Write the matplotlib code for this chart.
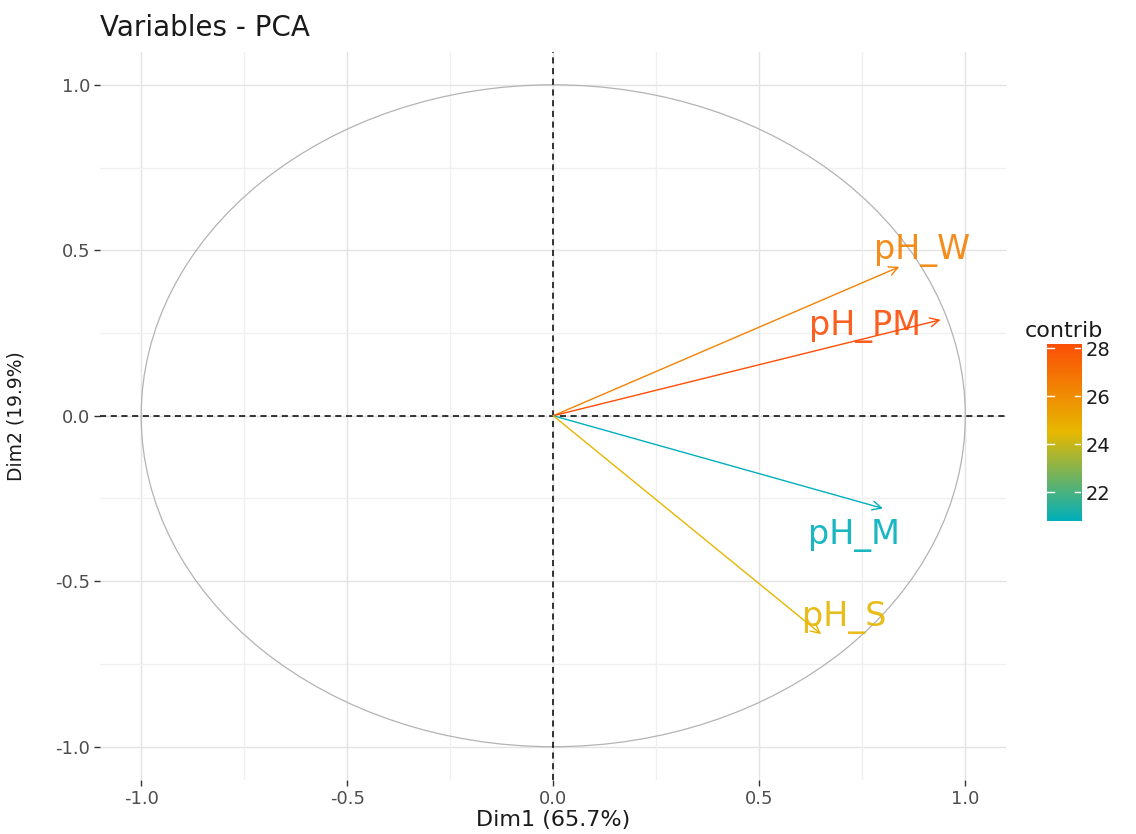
import numpy as np
import matplotlib
matplotlib.use("Agg")
import matplotlib.pyplot as plt
from matplotlib.colors import LinearSegmentedColormap, Normalize
from matplotlib.patches import Circle

# variable coordinates on Dim1 / Dim2 and their contributions
variables = ["pH_W", "pH_PM", "pH_M", "pH_S"]
dim1 = [0.84, 0.94, 0.80, 0.65]
dim2 = [0.45, 0.29, -0.28, -0.66]
contrib = [26.4, 28.2, 20.8, 24.6]
ticks = [-1.0, -0.5, 0.0, 0.5, 1.0]
tick_labels = ["-1.0", "-0.5", "0.0", "0.5", "1.0"]
cbar_ticks = [22, 24, 26, 28]

cmap = LinearSegmentedColormap.from_list("contrib", ["#00AFBB", "#E7B800", "#FC4E07"])
norm = Normalize(vmin=min(contrib), vmax=max(contrib))

fig = plt.figure(figsize=(11.36, 8.34), dpi=100)
ax = fig.add_axes([0.088, 0.065, 0.798, 0.873])
ax.set_xlim(-1.1, 1.1)
ax.set_ylim(-1.1, 1.1)

# ggplot-like minimal grid
for v in np.arange(-1.0, 1.01, 0.25):
    major = abs(v * 2 - round(v * 2)) < 1e-9
    c = "#E3E3E3" if major else "#F0F0F0"
    ax.axvline(v, color=c, lw=1.0, zorder=0)
    ax.axhline(v, color=c, lw=1.0, zorder=0)

ax.add_patch(Circle((0, 0), 1.0, fill=False, ec="#B3B3B3", lw=0.9, zorder=1))
ax.axhline(0, color="black", ls=(0, (4, 3)), lw=1.1, zorder=2)
ax.axvline(0, color="black", ls=(0, (4, 3)), lw=1.1, zorder=2)

# label offsets relative to arrow tips
offsets = {"pH_W": (0.055, 0.048), "pH_PM": (-0.184, -0.02),
           "pH_M": (-0.07, -0.081), "pH_S": (0.056, 0.05)}
for name, x, y, c in zip(variables, dim1, dim2, contrib):
    col = cmap(norm(c))
    ax.annotate("", xy=(x, y), xytext=(0, 0),
                arrowprops=dict(arrowstyle="->", color=col, lw=1.0,
                                mutation_scale=16, shrinkA=0, shrinkB=0),
                zorder=3)
    dx, dy = offsets[name]
    ax.text(x + dx, y + dy, name, color=col, fontsize=24, ha="center",
            va="center", alpha=0.9, zorder=4)

for s in ax.spines.values():
    s.set_visible(False)
ax.set_xticks(ticks)
ax.set_xticklabels(tick_labels)
ax.set_yticks(ticks)
ax.set_yticklabels(tick_labels)
ax.tick_params(length=4, width=1, color="#333333", labelsize=13,
               labelcolor="#4D4D4D", pad=3)
ax.set_xlabel("Dim1 (65.7%)", fontsize=16, color="#1A1A1A", labelpad=2)
ax.set_ylabel("Dim2 (19.9%)", fontsize=13.5, color="#1A1A1A")
ax.yaxis.set_label_coords(-0.082, 0.5)
fig.text(0.088, 0.966, "Variables - PCA", fontsize=20, color="#1A1A1A",
         ha="left", va="center")

# colour bar
cax = fig.add_axes([0.922, 0.375, 0.030, 0.213])
grad = np.linspace(norm.vmin, norm.vmax, 256).reshape(-1, 1)
cax.imshow(grad, aspect="auto", cmap=cmap, norm=norm, origin="lower",
           extent=[0, 1, norm.vmin, norm.vmax])
cax.set_xlim(0, 1)
cax.set_ylim(norm.vmin, norm.vmax)
for t in cbar_ticks:
    cax.plot([0, 0.2], [t, t], color="white", lw=1)
    cax.plot([0.8, 1], [t, t], color="white", lw=1)
cax.set_xticks([])
cax.yaxis.tick_right()
cax.set_yticks(cbar_ticks)
cax.tick_params(length=0, labelsize=14, labelcolor="#1A1A1A", pad=3)
for s in cax.spines.values():
    s.set_visible(False)
cax.set_title("contrib", fontsize=16, color="#1A1A1A", pad=5)

fig.savefig("out.png", dpi=100)
